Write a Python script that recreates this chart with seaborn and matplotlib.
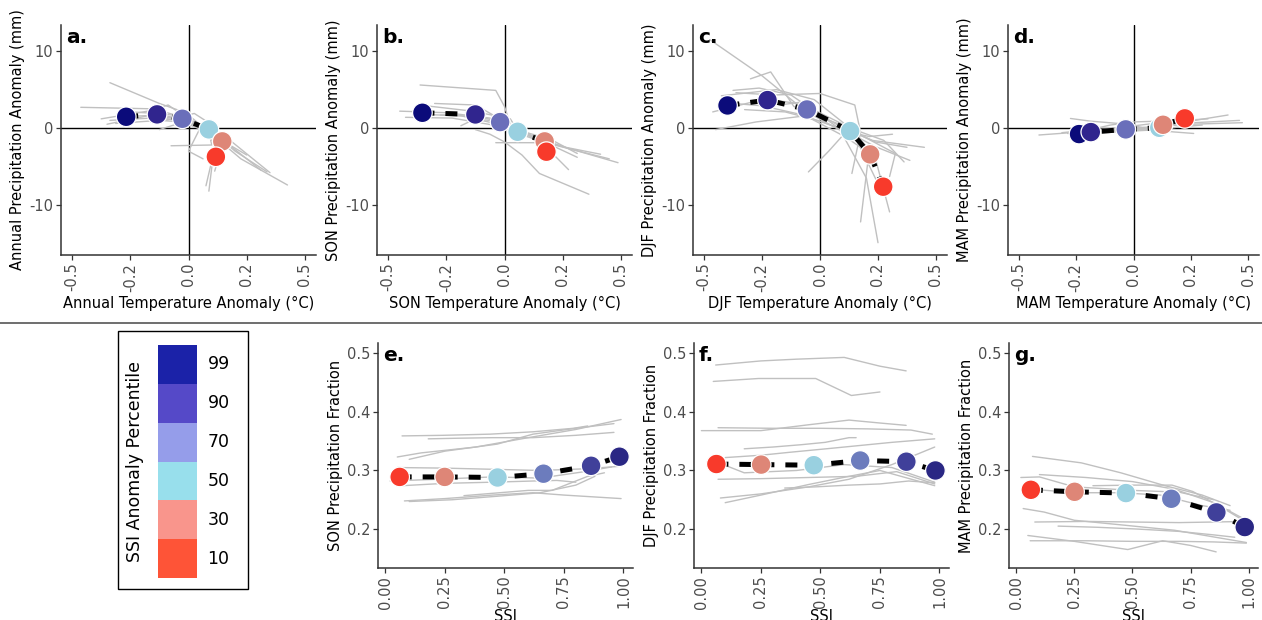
import numpy as np
import pandas as pd
import matplotlib
matplotlib.use("Agg")
import matplotlib.pyplot as plt
import seaborn as sns
from matplotlib.patches import Rectangle
from matplotlib.lines import Line2D
from matplotlib.colors import ListedColormap

sns.set_theme(style="white")
plt.rcParams['font.family'] = ['DejaVu Sans']

# ---------------------------------------------------------------- data
percentiles = [99, 90, 70, 50, 30, 10]

# composite means (order: 99, 90, 70, 50, 30, 10 percentile)
annual_t = [-0.214, -0.108, -0.021, 0.070, 0.116, 0.094]
annual_p = [1.47, 1.78, 1.21, -0.17, -1.73, -3.73]
son_t = [-0.282, -0.100, -0.015, 0.045, 0.138, 0.144]
son_p = [1.99, 1.77, 0.78, -0.48, -1.73, -3.07]
djf_t = [-0.319, -0.181, -0.045, 0.104, 0.173, 0.218]
djf_p = [2.94, 3.64, 2.42, -0.39, -3.42, -7.62]
mam_t = [-0.190, -0.149, -0.027, 0.090, 0.103, 0.179]
mam_p = [-0.78, -0.52, -0.17, 0.04, 0.43, 1.26]

# individual sites, temperature / precipitation anomaly pairs
annual_sites = [
    ([-0.27, -0.10, -0.01, 0.08, 0.18, 0.34], [5.9, 3.2, 2.0, -0.8, -4.0, -7.4]),
    ([-0.37, -0.12, 0.00, 0.05, 0.14, 0.25], [2.7, 2.5, 1.2, 0.3, -2.2, -5.5]),
    ([-0.27, -0.13, -0.04, 0.04, 0.10, 0.06], [1.0, 1.3, 1.4, 0.2, -1.0, -7.5]),
    ([-0.30, -0.14, -0.07, 0.03, 0.13, 0.28], [1.2, 2.2, 3.0, 0.4, -1.2, -5.8]),
    ([-0.25, -0.10, -0.02, 0.05, 0.09, 0.07], [0.6, 1.0, 0.8, -0.3, -2.0, -8.2]),
    ([-0.24, -0.11, -0.03, 0.06, 0.11, 0.20], [2.2, 1.9, 1.6, 0.1, -1.5, -3.5]),
    ([-0.13, -0.07, 0.02, 0.09, 0.12, 0.09], [0.8, 1.1, 1.9, 0.2, -1.6, -5.6]),
    ([-0.10, -0.05, -0.01, 0.07, 0.08, -0.06], [-0.2, 0.4, 0.9, -0.5, -2.2, -2.3]),
    ([-0.22, -0.09, -0.01, 0.04, 0.00, 0.05], [1.5, 1.7, 1.0, 0.0, -3.0, -4.0]),
    ([-0.28, -0.14, -0.02, 0.08, 0.16, 0.27], [0.5, 1.6, 0.9, -0.4, -3.0, -5.7]),
]
son_sites = [
    ([-0.29, -0.03, 0.00, 0.02, 0.12, 0.25], [5.6, 4.9, 2.8, 0.5, -1.5, -3.8]),
    ([-0.10, -0.05, 0.00, 0.06, 0.12, 0.29], [-0.2, -0.8, -1.8, -3.5, -5.9, -8.6]),
    ([-0.36, -0.20, -0.05, 0.06, 0.18, 0.39], [2.2, 2.0, 1.3, -0.6, -2.2, -4.5]),
    ([-0.30, -0.15, -0.02, 0.08, 0.21, 0.33], [1.8, 1.6, 0.5, -0.9, -2.5, -3.4]),
    ([-0.24, -0.10, -0.03, 0.03, 0.14, 0.36], [3.2, 3.0, 1.5, -0.5, -1.9, -4.0]),
    ([-0.34, -0.18, -0.04, 0.05, 0.16, 0.25], [1.4, 1.3, 0.4, -0.3, -1.5, -3.3]),
    ([-0.27, -0.11, 0.02, 0.04, 0.12, 0.22], [2.9, 2.2, 1.2, 0.0, -1.6, -5.4]),
    ([-0.22, -0.09, 0.01, 0.06, 0.15, -0.03], [1.7, 1.5, 0.6, -0.7, -1.9, -1.9]),
    ([-0.15, -0.10, -0.03, 0.03, 0.10, 0.16], [0.3, 1.2, 0.9, -0.2, -1.2, -2.8]),
]
djf_sites = [
    ([-0.38, -0.20, -0.05, 0.07, 0.16, 0.20], [11.5, 6.8, 2.2, -0.3, -6.5, -14.9]),
    ([-0.37, -0.19, -0.06, 0.10, 0.17, 0.14], [2.1, 3.8, 3.1, 0.1, -2.8, -12.2]),
    ([-0.36, -0.22, -0.05, 0.09, 0.19, 0.24], [-0.2, 0.8, 1.6, -1.2, -3.8, -10.9]),
    ([-0.34, -0.15, -0.02, 0.12, 0.26, 0.24], [4.2, 5.0, 3.7, -0.5, -3.3, -6.3]),
    ([-0.24, -0.17, -0.09, 0.06, 0.19, 0.30], [6.4, 7.3, 2.8, 0.6, -1.8, -2.5]),
    ([-0.29, -0.16, 0.00, 0.12, 0.14, 0.11], [4.6, 4.3, 4.5, 3.0, -0.6, -5.9]),
    ([-0.04, 0.03, 0.08, 0.14, 0.22, 0.29], [-5.7, -3.0, -0.9, -0.5, -1.6, -4.4]),
    ([-0.33, -0.20, -0.07, 0.11, 0.17, 0.25], [3.3, 2.9, 1.8, -0.6, -1.1, -0.8]),
    ([-0.26, -0.12, 0.01, 0.09, 0.19, 0.31], [2.4, 2.1, 0.8, -0.4, -2.4, -4.2]),
    ([-0.30, -0.21, -0.10, 0.02, 0.13, 0.21], [4.9, 5.2, 4.3, 1.2, -1.8, -8.0]),
    ([-0.12, -0.06, 0.00, 0.08, 0.18, 0.36], [3.1, 3.4, 1.7, 0.0, -1.6, -2.5]),
]
mam_sites = [
    ([-0.33, -0.22, -0.05, 0.08, 0.18, 0.33], [-0.9, -0.6, -0.3, 0.1, 0.8, 1.7]),
    ([-0.22, -0.15, -0.02, 0.06, 0.14, 0.21], [1.25, 0.9, 0.5, -0.2, -0.5, -0.7]),
    ([-0.25, -0.17, -0.03, 0.10, 0.16, 0.37], [-0.6, -0.3, 0.0, 0.2, 0.6, 1.0]),
    ([-0.20, -0.14, -0.01, 0.12, 0.20, 0.38], [-0.9, -0.6, -0.2, 0.3, 0.5, 0.7]),
    ([-0.18, -0.12, -0.04, 0.07, 0.13, 0.26], [-0.4, -0.2, 0.1, 0.6, 0.9, 1.2]),
    ([-0.23, -0.16, -0.05, 0.05, 0.12, 0.22], [-0.7, -0.7, -0.3, -0.1, 0.3, 1.1]),
    ([-0.15, -0.08, 0.00, 0.09, 0.14, 0.20], [-0.2, 0.4, 0.8, 0.9, 1.1, 1.6]),
    ([-0.21, -0.17, -0.06, 0.09, 0.15, 0.24], [-1.0, -0.8, -0.5, -0.2, 0.1, 0.4]),
]

# seasonal precipitation fraction against SSI (order: 10 ... 99 percentile)
ssi_e = [0.060, 0.249, 0.471, 0.664, 0.864, 0.983]
son_frac = [0.289, 0.289, 0.288, 0.2945, 0.308, 0.3235]
ssi_f = [0.063, 0.251, 0.472, 0.667, 0.861, 0.983]
djf_frac = [0.311, 0.310, 0.309, 0.317, 0.315, 0.300]
ssi_g = [0.063, 0.251, 0.472, 0.667, 0.861, 0.983]
mam_frac = [0.267, 0.2636, 0.2614, 0.2517, 0.2284, 0.2034]

son_frac_sites = [
    ([0.07, 0.24, 0.44, 0.62, 0.79, 0.85], [0.359, 0.360, 0.362, 0.366, 0.372, 0.376]),
    ([0.18, 0.30, 0.45, 0.62, 0.80, 0.96], [0.354, 0.355, 0.356, 0.356, 0.360, 0.365]),
    ([0.05, 0.15, 0.38, 0.60, 0.80, 0.99], [0.323, 0.330, 0.340, 0.356, 0.370, 0.387]),
    ([0.10, 0.25, 0.47, 0.62, 0.80, 0.96], [0.319, 0.333, 0.345, 0.362, 0.372, 0.380]),
    ([0.05, 0.25, 0.45, 0.65, 0.85, 0.98], [0.305, 0.304, 0.302, 0.300, 0.303, 0.307]),
    ([0.02, 0.22, 0.45, 0.65, 0.82, 0.95], [0.282, 0.285, 0.289, 0.287, 0.297, 0.306]),
    ([0.07, 0.25, 0.45, 0.62, 0.72, 0.80], [0.274, 0.278, 0.280, 0.282, 0.283, 0.280]),
    ([0.33, 0.48, 0.60, 0.70, 0.85, 0.92], [0.257, 0.262, 0.266, 0.266, 0.290, 0.296]),
    ([0.08, 0.25, 0.45, 0.62, 0.75, 0.99], [0.248, 0.252, 0.258, 0.262, 0.258, 0.252]),
    ([0.10, 0.28, 0.47, 0.65, 0.80, 0.88], [0.247, 0.250, 0.256, 0.262, 0.275, 0.290]),
]
djf_frac_sites = [
    ([0.06, 0.25, 0.40, 0.60, 0.75, 0.86], [0.480, 0.487, 0.490, 0.493, 0.478, 0.470]),
    ([0.05, 0.24, 0.40, 0.48, 0.63, 0.75], [0.452, 0.457, 0.457, 0.457, 0.428, 0.434]),
    ([0.00, 0.25, 0.45, 0.62, 0.75, 0.86], [0.368, 0.368, 0.378, 0.386, 0.381, 0.377]),
    ([0.07, 0.30, 0.50, 0.70, 0.88, 0.97], [0.373, 0.372, 0.372, 0.371, 0.369, 0.362]),
    ([0.18, 0.30, 0.42, 0.52, 0.62, 0.65], [0.337, 0.340, 0.344, 0.348, 0.356, 0.356]),
    ([0.10, 0.25, 0.37, 0.55, 0.80, 0.98], [0.322, 0.326, 0.331, 0.338, 0.348, 0.354]),
    ([0.03, 0.18, 0.40, 0.60, 0.80, 0.98], [0.320, 0.296, 0.300, 0.310, 0.305, 0.280]),
    ([0.07, 0.25, 0.45, 0.65, 0.82, 0.98], [0.285, 0.286, 0.288, 0.290, 0.298, 0.277]),
    ([0.08, 0.25, 0.45, 0.62, 0.80, 0.98], [0.253, 0.260, 0.272, 0.285, 0.310, 0.340]),
    ([0.10, 0.25, 0.45, 0.62, 0.75, 0.98], [0.245, 0.258, 0.276, 0.290, 0.300, 0.274]),
    ([0.35, 0.48, 0.62, 0.75, 0.87, 0.98], [0.270, 0.272, 0.275, 0.277, 0.282, 0.279]),
]
mam_frac_sites = [
    ([0.07, 0.28, 0.45, 0.64, 0.80, 0.92], [0.324, 0.313, 0.296, 0.274, 0.258, 0.240]),
    ([0.10, 0.30, 0.50, 0.68, 0.85, 0.99], [0.293, 0.288, 0.281, 0.268, 0.245, 0.215]),
    ([0.02, 0.10, 0.25, 0.50, 0.70, 0.85], [0.288, 0.289, 0.272, 0.266, 0.263, 0.250]),
    ([0.33, 0.50, 0.67, 0.76, 0.88, 0.98], [0.274, 0.275, 0.275, 0.264, 0.238, 0.214]),
    ([0.03, 0.12, 0.25, 0.48, 0.68, 0.99], [0.235, 0.229, 0.215, 0.206, 0.198, 0.177]),
    ([0.08, 0.30, 0.50, 0.70, 0.85, 0.99], [0.212, 0.213, 0.212, 0.211, 0.212, 0.213]),
    ([0.18, 0.35, 0.52, 0.70, 0.85, 0.94], [0.205, 0.203, 0.200, 0.196, 0.190, 0.186]),
    ([0.05, 0.25, 0.48, 0.63, 0.75, 0.86], [0.189, 0.179, 0.165, 0.180, 0.172, 0.161]),
    ([0.06, 0.30, 0.50, 0.70, 0.85, 0.99], [0.180, 0.180, 0.179, 0.179, 0.178, 0.176]),
    ([0.07, 0.25, 0.45, 0.62, 0.80, 0.92], [0.268, 0.262, 0.262, 0.258, 0.240, 0.232]),
]

temp_ticks = [-0.4, -0.2, 0.0, 0.2, 0.4]
temp_tick_labels = ["-0.5", "-0.2", "0.0", "0.2", "0.5"]
precip_ticks = [-10, 0, 10]
frac_ticks = [0.2, 0.3, 0.4, 0.5]
frac_tick_labels = ["0.2", "0.3", "0.4", "0.5"]
ssi_ticks = [0.0, 0.25, 0.5, 0.75, 1.0]
ssi_tick_labels = ["0.00", "0.25", "0.50", "0.75", "1.00"]

legend_labels = ["99", "90", "70", "50", "30", "10"]
legend_colors = ["#1b22a8", "#5549c8", "#959dea", "#98dfec", "#f9958c", "#fe5437"]

# marker colours, 99 -> 10 percentile for the anomaly panels
top_colors = ["#0b0b7a", "#30258e", "#6a6fba", "#99d0e0", "#de8677", "#f83a2b"]
# 10 -> 99 percentile for the fraction panels
bottom_colors = ["#f83a2b", "#de8677", "#99d0e0", "#6c7cbd", "#40409a", "#2a2784"]

GRAY = "#c0c0c0"
AXC = "#333333"
TICKC = "#4d4d4d"


def sites_frame(sites):
    rows = []
    for i, (xs, ys) in enumerate(sites):
        for j, (x, y) in enumerate(zip(xs, ys)):
            rows.append({"site": i, "step": j, "x": x, "y": y})
    return pd.DataFrame(rows)


def style_axes(ax):
    sns.despine(ax=ax)
    for s in ("left", "bottom"):
        ax.spines[s].set_color(AXC)
        ax.spines[s].set_linewidth(1.1)
    ax.tick_params(axis="both", which="both", direction="out", length=3.5, width=0.9,
                   color=AXC, labelcolor=TICKC, labelsize=10.5, pad=2,
                   left=True, bottom=True)
    ax.grid(False)


def draw_panel(ax, sites, mx, my, colors):
    df = sites_frame(sites)
    sns.lineplot(data=df, x="x", y="y", units="site", estimator=None, sort=False,
                 color=GRAY, lw=1.0, ax=ax, legend=False, zorder=2)
    mean = pd.DataFrame({"x": mx, "y": my, "k": list(range(len(mx)))})
    sns.lineplot(data=mean, x="x", y="y", estimator=None, sort=False, color="black",
                 lw=3.6, ax=ax, legend=False, zorder=3)
    ax.lines[-1].set_linestyle((0, (2.4, 2.2)))
    sns.scatterplot(data=mean, x="x", y="y", hue="k", palette=colors, s=200,
                    edgecolor="white", linewidth=0.9, ax=ax, legend=False, zorder=4)


fig = plt.figure(figsize=(12.62, 6.2), dpi=100)
W, H = 1262.0, 620.0


def px_axes(left, right, top, bottom):
    return fig.add_axes([left / W, 1 - bottom / H, (right - left) / W, (bottom - top) / H])


top_specs = [
    (61, 316, annual_sites, annual_t, annual_p, "a.", "Annual"),
    (377, 632, son_sites, son_t, son_p, "b.", "SON"),
    (693, 947, djf_sites, djf_t, djf_p, "c.", "DJF"),
    (1008, 1259, mam_sites, mam_t, mam_p, "d.", "MAM"),
]
for left, right, sites, mx, my, letter, name in top_specs:
    ax = px_axes(left, right, 25, 255)
    draw_panel(ax, sites, mx, my, top_colors)
    ax.axhline(0, color="black", lw=1.0, zorder=1)
    ax.axvline(0, color="black", lw=1.0, zorder=1)
    ax.set_xlim(-0.438, 0.438)
    ax.set_ylim(-16.5, 13.4)
    ax.set_xticks(temp_ticks)
    ax.set_xticklabels(temp_tick_labels, rotation=90)
    ax.set_yticks(precip_ticks)
    ax.set_yticklabels([str(v) for v in precip_ticks])
    style_axes(ax)
    ax.set_xlabel(f"{name} Temperature Anomaly (°C)", fontsize=10.5, color="black", labelpad=3)
    ax.set_ylabel(f"{name} Precipitation Anomaly (mm)", fontsize=10.5, color="black", labelpad=3)
    ax.text(0.02, 0.985, letter, transform=ax.transAxes, fontsize=14.5, fontweight="bold",
            va="top", ha="left", color="black")

bottom_specs = [
    (378, 633, son_frac_sites, ssi_e, son_frac, "e.", "SON"),
    (694, 949, djf_frac_sites, ssi_f, djf_frac, "f.", "DJF"),
    (1009, 1258, mam_frac_sites, ssi_g, mam_frac, "g.", "MAM"),
]
for left, right, sites, mx, my, letter, name in bottom_specs:
    ax = px_axes(left, right, 343, 568)
    draw_panel(ax, sites, mx, my, bottom_colors)
    ax.set_xlim(-0.031, 1.04)
    ax.set_ylim(0.1335, 0.5176)
    ax.set_xticks(ssi_ticks)
    ax.set_xticklabels(ssi_tick_labels, rotation=90)
    ax.set_yticks(frac_ticks)
    ax.set_yticklabels(frac_tick_labels)
    style_axes(ax)
    ax.set_xlabel("SSI", fontsize=10.5, color="black", labelpad=0)
    ax.set_ylabel(f"{name} Precipitation Fraction", fontsize=10.5, color="black", labelpad=3)
    ax.text(0.02, 0.985, letter, transform=ax.transAxes, fontsize=14.5, fontweight="bold",
            va="top", ha="left", color="black")

# separator between the two rows
fig.add_artist(Line2D([0, 1], [1 - 323 / H, 1 - 323 / H], transform=fig.transFigure,
                      color="#555555", lw=1.2))

# colour key: framed box, stacked swatches, labels and title
fig.add_artist(Rectangle((118 / W, 1 - 589 / H), 130 / W, 258 / H, transform=fig.transFigure,
                         facecolor="none", edgecolor="black", lw=1.0, zorder=0))
key_ax = px_axes(158, 197, 345, 578)
key_vals = np.arange(len(legend_labels)).reshape(-1, 1)
sns.heatmap(key_vals, cmap=ListedColormap(legend_colors), cbar=False,
            xticklabels=False, yticklabels=False, linewidths=0, ax=key_ax,
            vmin=-0.5, vmax=len(legend_labels) - 0.5)
for i, lab in enumerate(legend_labels):
    key_ax.text(1.27, i + 0.5, lab, fontsize=12.5, va="center", ha="left", color="black")
key_ax.axis("off")
fig.text(135 / W, 1 - 461 / H, "SSI Anomaly Percentile", rotation=90, fontsize=12.5,
         va="center", ha="center", color="black")

fig.savefig("out.png", dpi=100)
